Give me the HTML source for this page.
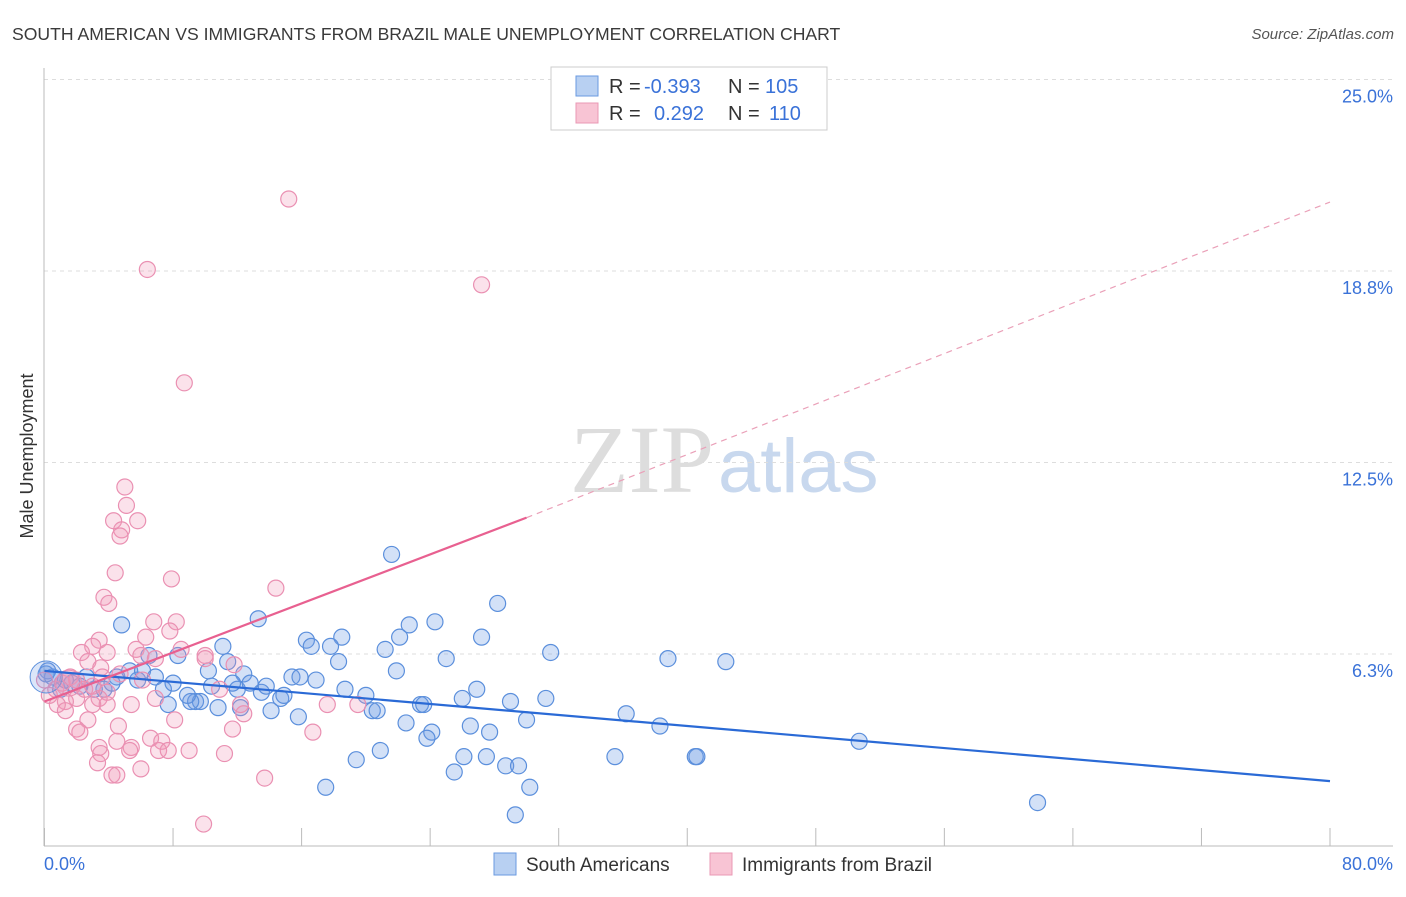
<!DOCTYPE html>
<html><head><meta charset="utf-8"><style>
body{margin:0;background:#fff;font-family:"Liberation Sans",sans-serif;}
</style></head><body>
<svg id="chart" width="1406" height="892" xmlns="http://www.w3.org/2000/svg">
<text x="12" y="40" font-size="17.6" fill="#3a3a3a">SOUTH AMERICAN VS IMMIGRANTS FROM BRAZIL MALE UNEMPLOYMENT CORRELATION CHART</text>
<text x="1394" y="39" font-size="15" fill="#555" font-style="italic" text-anchor="end">Source: ZipAtlas.com</text>
<text x="33" y="456" font-size="18" fill="#333" transform="rotate(-90 33 456)" text-anchor="middle">Male Unemployment</text>
<text x="714" y="492" font-size="96" fill="#ddd" text-anchor="end" font-family="Liberation Serif">ZIP</text>
<text x="718" y="492" font-size="76" fill="#c8d8ee">atlas</text>
<g id="grid"></g><g id="axes"></g><g id="marks"></g><g id="trends"></g>
<g>
<rect x="551" y="67" width="276" height="63" fill="#fff" stroke="#ccc"/>
<rect x="576" y="76" width="22" height="20" fill="#b8d0f2" stroke="#6a9ae0"/>
<rect x="576" y="103" width="22" height="20" fill="#f8c4d4" stroke="#ea98b4"/>
<text x="609" y="93" font-size="20" fill="#333">R =</text>
<text x="644" y="93" font-size="20" fill="#3a72d8">-0.393</text>
<text x="728" y="93" font-size="20" fill="#333">N =</text>
<text x="765" y="93" font-size="20" fill="#3a72d8">105</text>
<text x="609" y="120" font-size="20" fill="#333">R =</text>
<text x="654" y="120" font-size="20" fill="#3a72d8">0.292</text>
<text x="728" y="120" font-size="20" fill="#333">N =</text>
<text x="769" y="120" font-size="20" fill="#3a72d8">110</text>
</g>
<g>
<rect x="494" y="853" width="22" height="22" fill="#b8d0f2" stroke="#6a9ae0"/>
<text x="526" y="871" font-size="19" fill="#333">South Americans</text>
<rect x="710" y="853" width="22" height="22" fill="#f8c4d4" stroke="#ea98b4"/>
<text x="742" y="871" font-size="19" fill="#333">Immigrants from Brazil</text>
</g>
</svg>
<script>
const yTicks=[6.25,12.5,18.75,25];
const yTickLabels=["6.3%","12.5%","18.8%","25.0%"];
const xTickValues=[0,8,16,24,32,40,48,56,64,72,80];
const blueX=[21.6,13.3,4.8,28.2,24.3,22.7,27.2,18.5,16.3,16.6,17.8,11.1,22.1,21.2,31.5,38.8,42.4,25.0,18.3,21.9,8.3,11.4,12.4,15.4,15.9,16.9,18.7,20.0,26.9,26.0,29.0,31.2,23.4,23.6,20.4,20.7,22.5,24.1,23.8,26.5,27.7,30.0,36.2,38.3,50.7,20.9,19.4,26.1,27.5,28.7,29.5,25.5,30.2,35.5,40.5,40.6,17.5,29.3,61.8,14.1,15.8,12.2,10.8,9.4,9.7,9.1,7.7,8.9,10.4,12.0,13.5,14.7,14.9,13.8,12.8,11.7,10.2,6.9,7.4,8.0,5.8,5.3,4.5,3.7,3.1,2.6,1.7,1.0,0.5,0.2,1.3,2.2,6.1,6.5,4.2,0.1];
const blueY=[9.5,7.4,7.2,7.9,7.3,7.2,6.8,6.8,6.7,6.5,6.5,6.5,6.8,6.4,6.3,6.1,6.0,6.1,6.0,5.7,6.2,6.0,5.6,5.5,5.5,5.4,5.1,4.9,5.1,4.8,4.7,4.8,4.6,4.6,4.4,4.4,4.0,3.7,3.5,3.9,3.7,4.1,4.3,3.9,3.4,3.1,2.8,2.9,2.9,2.6,2.6,2.4,1.9,2.9,2.9,2.9,1.9,1.0,1.4,4.4,4.2,4.5,4.5,4.7,4.7,4.7,4.6,4.9,5.2,5.1,5.0,4.8,4.9,5.2,5.3,5.3,5.7,5.5,5.1,5.3,5.4,5.7,5.5,5.1,5.1,5.5,5.3,5.1,5.5,5.7,5.4,5.2,5.7,6.2,5.3,5.6];
const pinkX=[15.2,6.4,27.2,8.7,5.0,5.1,4.3,5.8,4.8,4.7,4.4,7.9,14.4,3.7,4.0,6.8,8.2,7.8,6.3,3.4,3.0,2.3,3.9,5.7,6.0,6.9,8.5,10.0,10.0,11.8,2.7,3.5,4.7,6.1,3.9,3.4,3.0,2.0,1.3,0.8,1.3,3.9,5.4,6.9,10.9,12.4,12.2,8.1,2.7,4.6,11.7,17.6,16.7,2.0,2.2,4.5,6.6,7.3,3.4,5.4,7.1,7.7,9.0,11.2,3.5,5.3,3.3,6.0,4.2,4.5,13.7,9.9,19.5,0.7,0.3,1.1,1.6,0.0,2.0,2.5,3.0,3.6];
const pinkY=[21.1,18.8,18.3,15.1,11.7,11.1,10.6,10.6,10.3,10.1,8.9,8.7,8.4,8.1,7.9,7.3,7.3,7.0,6.8,6.7,6.5,6.3,6.3,6.4,6.2,6.1,6.4,6.2,6.1,5.9,6.0,5.8,5.6,5.4,5.0,4.8,4.6,4.8,4.7,4.6,4.4,4.6,4.6,4.8,5.1,4.3,4.6,4.1,4.1,3.9,3.8,4.6,3.7,3.8,3.7,3.4,3.5,3.4,3.2,3.2,3.1,3.1,3.1,3.0,3.0,3.1,2.7,2.5,2.3,2.3,2.2,0.7,4.6,5.1,4.9,5.3,5.5,5.4,5.4,5.1,5.2,5.5];
const blueTrend=[[0,5.7],[80,2.1]];
const pinkTrendSolid=[[0,4.7],[30,10.7]];
const pinkTrendDashed=[[30,10.7],[80,21.0]];
const NS="http://www.w3.org/2000/svg";
const X0=44.5,X1=1330,Y0=845.5,YPER=30.64;
function sx(v){return X0+(X1-X0)*v/80;}
function sy(v){return Y0-v*YPER;}
function mk(tag,attrs,parent){const e=document.createElementNS(NS,tag);for(const k in attrs)e.setAttribute(k,attrs[k]);parent.appendChild(e);return e;}
const grid=document.getElementById('grid'),axes=document.getElementById('axes'),marks=document.getElementById('marks'),trends=document.getElementById('trends');
yTicks.forEach((t,i)=>{
 const l=mk('line',{x1:44,x2:1393,y1:sy(t),y2:sy(t),stroke:'#ddd','stroke-dasharray':'4,4'},grid);
 
 
 const tx=mk('text',{x:1393,y:sy(t)+23,'font-size':18,fill:'#3a72d8','text-anchor':'end'},axes);
 tx.textContent=yTickLabels[i];
 
 
});
const ax=mk('line',{x1:44,x2:1393,y1:846,y2:846,stroke:'#bbb'},axes);


const ay=mk('line',{x1:44,x2:44,y1:68,y2:846,stroke:'#bbb'},axes);


xTickValues.forEach(v=>{
 const t=mk('line',{x1:sx(v),x2:sx(v),y1:828,y2:846,stroke:'#bbb'},axes);
 
 
});
const xl0=mk('text',{x:44,y:870,'font-size':18,fill:'#3a72d8'},axes);xl0.textContent='0.0%';


const xl1=mk('text',{x:1393,y:870,'font-size':18,fill:'#3a72d8','text-anchor':'end'},axes);xl1.textContent='80.0%';


function dots(xs,ys,fill,stroke,name){
 xs.forEach((x,i)=>{
  const c=mk('circle',{cx:sx(x),cy:sy(ys[i]),r:8,fill:fill,stroke:stroke,'stroke-width':1.2},marks);
  
  
 });
}
dots(blueX,blueY,'rgba(110,155,230,0.3)','#5b8fdc','south-american-point');
dots(pinkX,pinkY,'rgba(242,150,182,0.28)','#ea90b2','brazil-immigrant-point');
const big1=mk('circle',{cx:sx(0.1),cy:sy(5.5),r:16,fill:'rgba(110,155,230,0.25)',stroke:'#5b8fdc'},marks);


const big2=mk('circle',{cx:sx(1.5),cy:sy(5.3),r:13,fill:'rgba(242,150,182,0.3)',stroke:'#ea90b2'},marks);


function line(p,stroke,w,dash,name){
 const a={x1:sx(p[0][0]),y1:sy(p[0][1]),x2:sx(p[1][0]),y2:sy(p[1][1]),stroke:stroke,'stroke-width':w};
 if(dash)a['stroke-dasharray']=dash;
 const l=mk('line',a,trends);
 
 
}
line(blueTrend,'#2a6ad6',2.2,null,'south-american-trendline');
line(pinkTrendSolid,'#e86090',2.2,null,'brazil-trendline');
line(pinkTrendDashed,'#eaa0b8',1.2,'6,5','brazil-trendline-extension');
</script>
</body></html>
